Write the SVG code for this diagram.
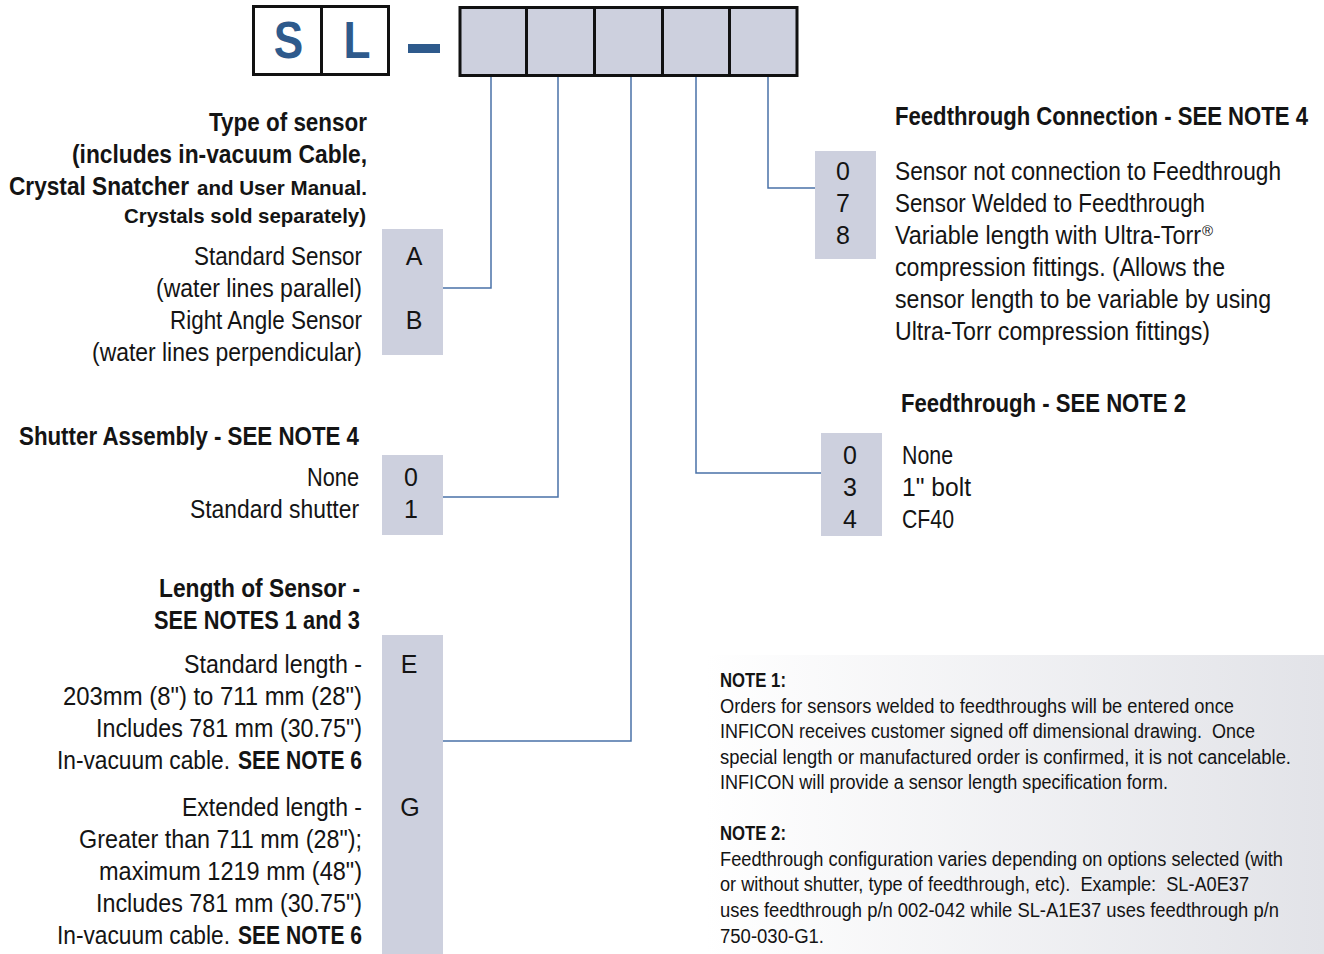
<svg xmlns="http://www.w3.org/2000/svg" width="1324" height="954" viewBox="0 0 1324 954">
  <defs>
    <linearGradient id="noteFill" x1="0" y1="0" x2="1" y2="0">
      <stop offset="0" stop-color="#ffffff"/>
      <stop offset="1" stop-color="#e2e3e8"/>
    </linearGradient>
  </defs>
  <style>
    text { font-family: "Liberation Sans", Arial, sans-serif; fill: #141414; }
    .t { font-size: 25px; }
    .h { font-size: 25px; font-weight: bold; }
    .hs { font-size: 21px; font-weight: bold; }
    .c { text-anchor: middle; }
    .n { font-size: 19.5px; }
    .nb { font-size: 19.5px; font-weight: bold; }
    .code { fill: #cdd0de; }
    .slot { fill: #cdd0de; stroke: #111; stroke-width: 3; }
    .prefix { fill: #ffffff; stroke: #111; stroke-width: 3; }
    .big { font-size: 52px; font-weight: bold; fill: #2e5a8c; text-anchor: middle; }
    .wire { fill: none; stroke: #4a72a8; stroke-width: 1.5; }
  </style>

  <rect width="1324" height="954" fill="#ffffff"/>

  <!-- part number header: SL - [ ][ ][ ][ ][ ] -->
  <g id="prefix">
    <rect class="prefix" x="253.5" y="6.5" width="135" height="68"/>
    <line x1="321.5" y1="6.5" x2="321.5" y2="74.5" stroke="#111" stroke-width="3"/>
    <text class="big" transform="translate(288.5,58) scale(0.85,1)">S</text>
    <text class="big" transform="translate(357,58) scale(0.85,1)">L</text>
    <rect x="408" y="44" width="32" height="9" fill="#2e5a8c"/>
  </g>
  <g id="slots">
    <rect class="slot" x="460" y="7.5" width="337" height="68"/>
    <line x1="526.5" y1="7.5" x2="526.5" y2="75.5" stroke="#111" stroke-width="3"/>
    <line x1="594.5" y1="7.5" x2="594.5" y2="75.5" stroke="#111" stroke-width="3"/>
    <line x1="662.5" y1="7.5" x2="662.5" y2="75.5" stroke="#111" stroke-width="3"/>
    <line x1="729.5" y1="7.5" x2="729.5" y2="75.5" stroke="#111" stroke-width="3"/>
  </g>

  <!-- leader lines from each slot to its option list -->
  <g id="connectors">
    <polyline class="wire" points="491,77 491,288 443,288"/>
    <polyline class="wire" points="558,77 558,497 443,497"/>
    <polyline class="wire" points="631,77 631,741 443,741"/>
    <polyline class="wire" points="696,77 696,473 821,473"/>
    <polyline class="wire" points="768,77 768,188 815,188"/>
  </g>

  <!-- sensor type -->
  <g id="sensor-type">
    <text class="h" x="209" y="131" textLength="158" lengthAdjust="spacingAndGlyphs">Type of sensor</text>
    <text class="h" x="72" y="163" textLength="295" lengthAdjust="spacingAndGlyphs">(includes in-vacuum Cable,</text>
    <text class="h" x="9" y="195" textLength="180" lengthAdjust="spacingAndGlyphs">Crystal Snatcher</text>
    <text class="hs" x="197" y="195" textLength="170" lengthAdjust="spacingAndGlyphs">and User Manual.</text>
    <text class="hs" x="124" y="223" textLength="242" lengthAdjust="spacingAndGlyphs">Crystals sold separately)</text>
    <rect class="code" x="382" y="229" width="61" height="126"/>
    <text class="t" x="194" y="265" textLength="168" lengthAdjust="spacingAndGlyphs">Standard Sensor</text>
    <text class="t" x="156" y="297" textLength="206" lengthAdjust="spacingAndGlyphs">(water lines parallel)</text>
    <text class="t" x="170" y="329" textLength="192" lengthAdjust="spacingAndGlyphs">Right Angle Sensor</text>
    <text class="t" x="92" y="361" textLength="270" lengthAdjust="spacingAndGlyphs">(water lines perpendicular)</text>
    <text class="t c" x="414" y="265">A</text>
    <text class="t c" x="414" y="329">B</text>
  </g>

  <!-- shutter -->
  <g id="shutter">
    <text class="h" x="19" y="445" textLength="340" lengthAdjust="spacingAndGlyphs">Shutter Assembly - SEE NOTE 4</text>
    <rect class="code" x="382" y="455" width="61" height="80"/>
    <text class="t" x="307" y="486" textLength="52" lengthAdjust="spacingAndGlyphs">None</text>
    <text class="t" x="190" y="518" textLength="169" lengthAdjust="spacingAndGlyphs">Standard shutter</text>
    <text class="t c" x="411" y="486">0</text>
    <text class="t c" x="411" y="518">1</text>
  </g>

  <!-- sensor length -->
  <g id="sensor-length">
    <text class="h" x="159" y="597" textLength="201" lengthAdjust="spacingAndGlyphs">Length of Sensor -</text>
    <text class="h" x="154" y="629" textLength="206" lengthAdjust="spacingAndGlyphs">SEE NOTES 1 and 3</text>
    <rect class="code" x="382" y="635" width="61" height="319"/>
    <text class="t" x="184" y="673" textLength="178" lengthAdjust="spacingAndGlyphs">Standard length -</text>
    <text class="t" x="63" y="705" textLength="299" lengthAdjust="spacingAndGlyphs">203mm (8") to 711 mm (28")</text>
    <text class="t" x="96" y="737" textLength="266" lengthAdjust="spacingAndGlyphs">Includes 781 mm (30.75")</text>
    <text class="t" x="57" y="769" textLength="173" lengthAdjust="spacingAndGlyphs">In-vacuum cable.</text>
    <text class="h" x="238" y="769" textLength="124" lengthAdjust="spacingAndGlyphs">SEE NOTE 6</text>
    <text class="t" x="182" y="816" textLength="180" lengthAdjust="spacingAndGlyphs">Extended length -</text>
    <text class="t" x="79" y="848" textLength="283" lengthAdjust="spacingAndGlyphs">Greater than 711 mm (28");</text>
    <text class="t" x="99" y="880" textLength="263" lengthAdjust="spacingAndGlyphs">maximum 1219 mm (48")</text>
    <text class="t" x="96" y="912" textLength="266" lengthAdjust="spacingAndGlyphs">Includes 781 mm (30.75")</text>
    <text class="t" x="57" y="944" textLength="173" lengthAdjust="spacingAndGlyphs">In-vacuum cable.</text>
    <text class="h" x="238" y="944" textLength="124" lengthAdjust="spacingAndGlyphs">SEE NOTE 6</text>
    <text class="t c" x="409" y="673">E</text>
    <text class="t c" x="410" y="816">G</text>
  </g>

  <!-- feedthrough connection -->
  <g id="feedthrough-connection">
    <text class="h" x="895" y="125" textLength="413" lengthAdjust="spacingAndGlyphs">Feedthrough Connection - SEE NOTE 4</text>
    <rect class="code" x="815" y="151" width="61" height="108"/>
    <text class="t c" x="843" y="180">0</text>
    <text class="t c" x="843" y="212">7</text>
    <text class="t c" x="843" y="244">8</text>
    <text class="t" x="895" y="180" textLength="386" lengthAdjust="spacingAndGlyphs">Sensor not connection to Feedthrough</text>
    <text class="t" x="895" y="212" textLength="310" lengthAdjust="spacingAndGlyphs">Sensor Welded to Feedthrough</text>
    <text class="t" x="895" y="244" textLength="306" lengthAdjust="spacingAndGlyphs">Variable length with Ultra-Torr</text>
    <text x="1202" y="236" font-size="15">®</text>
    <text class="t" x="895" y="276" textLength="330" lengthAdjust="spacingAndGlyphs">compression fittings. (Allows the</text>
    <text class="t" x="895" y="308" textLength="376" lengthAdjust="spacingAndGlyphs">sensor length to be variable by using</text>
    <text class="t" x="895" y="340" textLength="315" lengthAdjust="spacingAndGlyphs">Ultra-Torr compression fittings)</text>
  </g>

  <!-- feedthrough -->
  <g id="feedthrough">
    <text class="h" x="901" y="412" textLength="285" lengthAdjust="spacingAndGlyphs">Feedthrough - SEE NOTE 2</text>
    <rect class="code" x="821" y="433" width="61" height="103"/>
    <text class="t c" x="850" y="464">0</text>
    <text class="t c" x="850" y="496">3</text>
    <text class="t c" x="850" y="528">4</text>
    <text class="t" x="902" y="464" textLength="51" lengthAdjust="spacingAndGlyphs">None</text>
    <text class="t" x="902" y="496" textLength="69" lengthAdjust="spacingAndGlyphs">1" bolt</text>
    <text class="t" x="902" y="528" textLength="52" lengthAdjust="spacingAndGlyphs">CF40</text>
  </g>

  <!-- notes panel -->
  <g id="notes">
    <rect x="705" y="655" width="619" height="299" fill="url(#noteFill)"/>
    <text class="nb" x="720" y="687" textLength="66" lengthAdjust="spacingAndGlyphs">NOTE 1:</text>
    <text class="n" x="720" y="713" textLength="514" lengthAdjust="spacingAndGlyphs">Orders for sensors welded to feedthroughs will be entered once</text>
    <text class="n" x="720" y="738" textLength="535" lengthAdjust="spacingAndGlyphs" xml:space="preserve">INFICON receives customer signed off dimensional drawing.  Once</text>
    <text class="n" x="720" y="764" textLength="571" lengthAdjust="spacingAndGlyphs">special length or manufactured order is confirmed, it is not cancelable.</text>
    <text class="n" x="720" y="789" textLength="448" lengthAdjust="spacingAndGlyphs">INFICON will provide a sensor length specification form.</text>
    <text class="nb" x="720" y="840" textLength="66" lengthAdjust="spacingAndGlyphs">NOTE 2:</text>
    <text class="n" x="720" y="866" textLength="563" lengthAdjust="spacingAndGlyphs">Feedthrough configuration varies depending on options selected (with</text>
    <text class="n" x="720" y="891" textLength="529" lengthAdjust="spacingAndGlyphs" xml:space="preserve">or without shutter, type of feedthrough, etc).  Example:  SL-A0E37</text>
    <text class="n" x="720" y="917" textLength="559" lengthAdjust="spacingAndGlyphs">uses feedthrough p/n 002-042 while SL-A1E37 uses feedthrough p/n</text>
    <text class="n" x="720" y="943" textLength="104" lengthAdjust="spacingAndGlyphs">750-030-G1.</text>
  </g>
</svg>
